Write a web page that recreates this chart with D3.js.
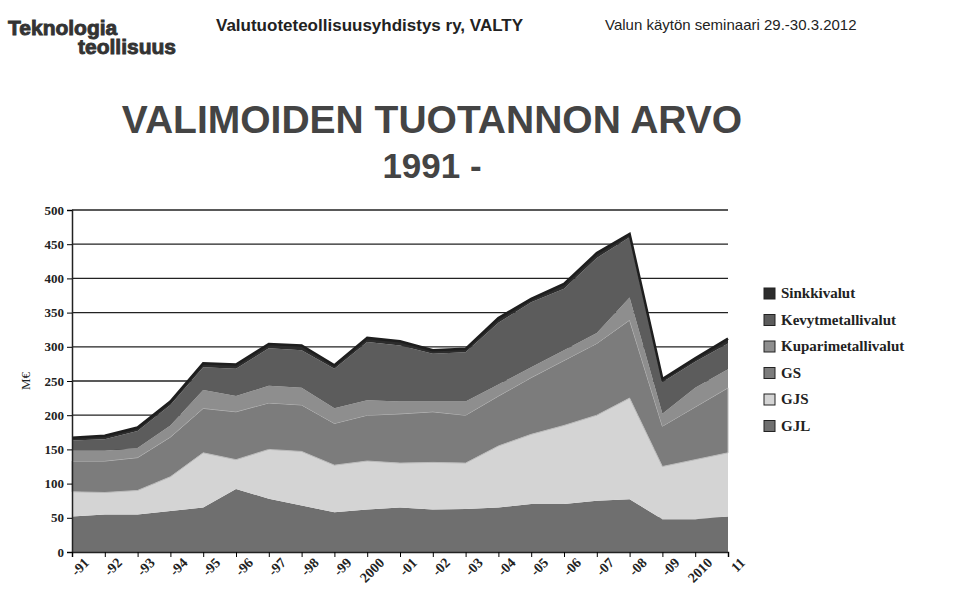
<!DOCTYPE html>
<html lang="fi">
<head>
<meta charset="UTF-8">
<script src="https://d3js.org/d3.v7.min.js"></script>
<style>
  body { margin: 0; background: #fff; }
  svg text { fill: #222; }
</style>
</head>
<body>
<svg width="967" height="614"></svg>
<script>
// years on the x axis
const years = ["-91","-92","-93","-94","-95","-96","-97","-98","-99","2000","-01","-02","-03","-04","-05","-06","-07","-08","-09","2010","11"];
// M€ per casting type
const gjl = [52,55,55,60,65,92,78,68,58,62,65,62,63,65,70,70,75,77,48,48,52];
const gjs = [36,32,35,50,80,43,72,79,69,71,65,69,67,90,102,115,125,148,77,87,93];
const gs = [45,46,48,58,65,70,68,68,61,67,72,74,70,73,83,95,105,114,59,77,95];
const kupari = [15,15,14,17,27,23,25,25,22,22,18,15,20,17,15,15,15,33,18,28,27];
const kevyt = [15,17,25,30,33,40,55,55,58,85,82,70,72,90,95,90,110,88,46,38,38];
const sinkki = [4,5,5,5,6,6,6,7,5,6,6,5,5,7,5,7,7,5,5,5,7];
const yTicks = [0,50,100,150,200,250,300,350,400,450,500];

const seriesNames = ["GJL","GJS","GS","Kuparimetallivalut","Kevytmetallivalut","Sinkkivalut"];
const colors = {GJL:"#6f6f6f", GJS:"#d4d4d4", GS:"#7c7c7c", Kuparimetallivalut:"#8e8e8e", Kevytmetallivalut:"#5c5c5c", Sinkkivalut:"#2c2c2c"};
const rows = years.map((y, i) => ({year: y, GJL: gjl[i], GJS: gjs[i], GS: gs[i],
  Kuparimetallivalut: kupari[i], Kevytmetallivalut: kevyt[i], Sinkkivalut: sinkki[i]}));

const svg = d3.select("svg");

// header
[["Teknologia", 8, 35], ["teollisuus", 78, 54]].forEach(([t, tx, ty]) => {
  svg.append("text").attr("x", tx).attr("y", ty).attr("font-family", "Arial, sans-serif")
    .style("font-weight", "bold").attr("font-size", 21).style("fill", "#333")
    .style("stroke", "#333").style("stroke-width", 0.9).text(t);
});
svg.append("text").attr("x", 216).attr("y", 31).attr("font-family", "Arial, sans-serif")
  .style("font-weight", "bold").attr("font-size", 17).text("Valutuoteteollisuusyhdistys ry, VALTY");
svg.append("text").attr("x", 605).attr("y", 30).attr("font-family", "Arial, sans-serif")
  .attr("font-size", 15).text("Valun käytön seminaari 29.-30.3.2012");
svg.append("text").attr("x", 432).attr("y", 133).attr("text-anchor", "middle").attr("font-family", "Arial, sans-serif")
  .style("font-weight", "bold").attr("font-size", 39).style("fill", "#444").text("VALIMOIDEN TUOTANNON ARVO");
svg.append("text").attr("x", 432).attr("y", 178).attr("text-anchor", "middle").attr("font-family", "Arial, sans-serif")
  .style("font-weight", "bold").attr("font-size", 35).style("fill", "#444").text("1991 -");

const x = d3.scalePoint().domain(years).range([72, 728]);
const y = d3.scaleLinear().domain([0, 500]).range([552, 210]);

// gridlines
svg.append("g").selectAll("line").data(yTicks.filter(d => d > 0)).join("line")
  .attr("x1", 72).attr("x2", 728).attr("y1", d => y(d)).attr("y2", d => y(d))
  .attr("stroke", "#222").attr("stroke-width", 1.3);

const stack = d3.stack().keys(seriesNames)(rows);
const area = d3.area().x(d => x(d.data.year)).y0(d => y(d[0])).y1(d => y(d[1]));
svg.append("g").selectAll("path").data(stack).join("path")
  .attr("d", area).attr("fill", d => colors[d.key])
  .attr("stroke", d => d.key === "GS" ? "#bbb" : "none").attr("stroke-width", 1);
// darker outline on top
svg.append("path").datum(stack[stack.length - 1])
  .attr("d", d3.line().x(d => x(d.data.year)).y(d => y(d[1])))
  .attr("fill", "none").attr("stroke", "#1e1e1e").attr("stroke-width", 2.5);

// axes
const yAxis = svg.append("g").attr("transform", "translate(72,0)")
  .call(d3.axisLeft(y).tickValues(yTicks).tickSize(5));
yAxis.selectAll("text").attr("font-family", "'Liberation Serif', serif").style("font-weight", "bold").attr("font-size", 13);
const xAxis = svg.append("g").attr("transform", "translate(0,552)")
  .call(d3.axisBottom(x).tickSize(5));
xAxis.selectAll("text").attr("font-family", "'Liberation Serif', serif").style("font-weight", "bold").attr("font-size", 14)
  .attr("text-anchor", "end").attr("dx", "0.3em").attr("dy", "0.9em").attr("transform", "rotate(-45)");
svg.selectAll(".domain").attr("stroke", "#222").attr("stroke-width", 1.5);

svg.append("text").attr("transform", "translate(30,381) rotate(-90)").attr("text-anchor", "middle")
  .attr("font-family", "'Liberation Serif', serif").attr("font-size", 13).text("M€");

// legend
const legend = svg.append("g").selectAll("g").data(seriesNames.slice().reverse()).join("g")
  .attr("transform", (d, i) => `translate(764,${293 + i * 26.5})`);
legend.append("rect").attr("width", 11).attr("height", 11).attr("y", -5)
  .attr("fill", d => colors[d]).attr("stroke", "#222");
legend.append("text").attr("x", 17).attr("y", 5).attr("font-family", "'Liberation Serif', serif")
  .style("font-weight", "bold").attr("font-size", 15).text(d => d);
</script>
</body>
</html>
